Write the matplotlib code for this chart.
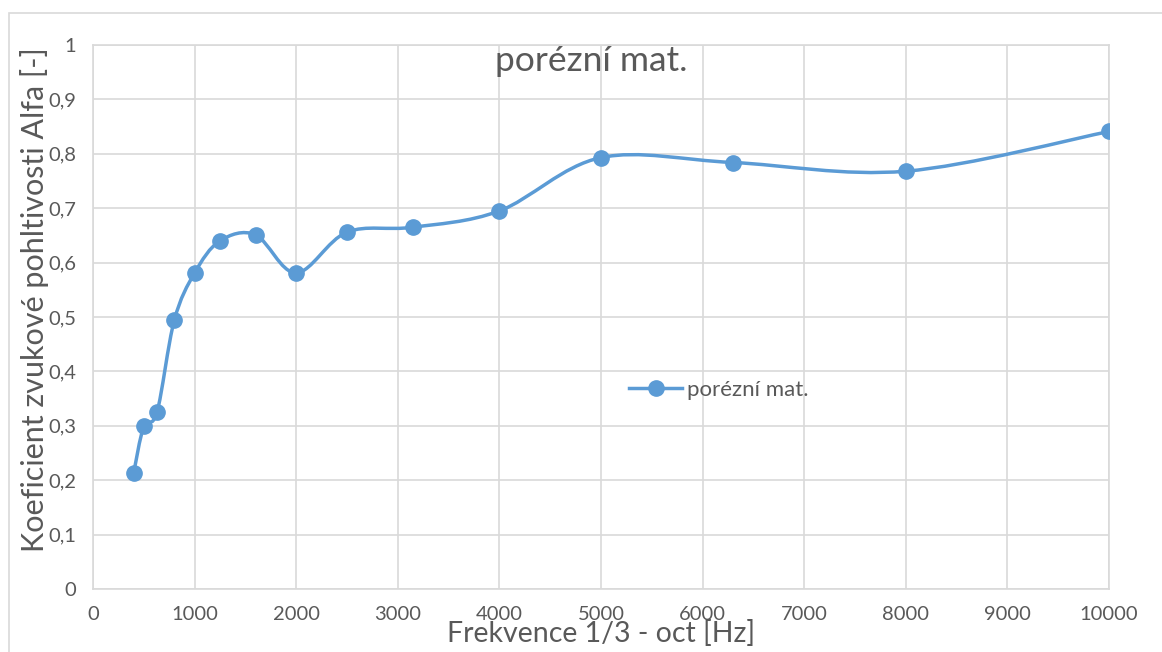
import numpy as np
import matplotlib.pyplot as plt
from matplotlib.path import Path
from matplotlib.patches import PathPatch, Rectangle
from matplotlib.lines import Line2D
from matplotlib.ticker import FuncFormatter

freq = [400, 500, 630, 800, 1000, 1250, 1600, 2000, 2500, 3150, 4000, 5000, 6300, 8000, 10000]
alfa = [0.213, 0.299, 0.325, 0.494, 0.581, 0.640, 0.651, 0.581, 0.656, 0.665, 0.695, 0.793, 0.784, 0.768, 0.841]

blue = "#5B9BD5"
grey = "#595959"
grid = "#D9D9D9"

plt.rcParams['font.family'] = ['Lato', 'DejaVu Sans']

W, H = 1162, 652
fig = plt.figure(figsize=(W / 100, H / 100), dpi=100)
fig.patches.append(Rectangle((9 / W, -0.1), 1.2, (H - 13) / H + 0.1, transform=fig.transFigure,
                             fill=False, edgecolor=grid, linewidth=1.2))

ax = fig.add_axes([93 / W, (H - 589) / H, (1109 - 93) / W, (589 - 45) / H])
ax.set_xlim(0, 10000)
ax.set_ylim(0, 1)
ax.set_xticks(np.arange(0, 10001, 1000))
ax.set_yticks(np.arange(0, 1.01, 0.1))
ax.yaxis.set_major_formatter(FuncFormatter(lambda v, p: ("%g" % round(v, 1)).replace(".", ",")))
ax.grid(True, color=grid, linewidth=1.2)
ax.set_axisbelow(True)
for s in ax.spines.values():
    s.set_color(grid)
    s.set_linewidth(1.2)
ax.tick_params(length=0, labelsize=14.5, colors=grey, pad=12)

# smoothed line like Excel (Catmull-Rom as cubic Bezier)
p = np.column_stack([freq, alfa])
pts = np.vstack([p[0], p, p[-1]])
verts = [tuple(p[0])]
codes = [Path.MOVETO]
for i in range(1, len(pts) - 2):
    c1 = pts[i] + (pts[i + 1] - pts[i - 1]) / 6
    c2 = pts[i + 1] - (pts[i + 2] - pts[i]) / 6
    verts += [tuple(c1), tuple(c2), tuple(pts[i + 1])]
    codes += [Path.CURVE4] * 3
ax.add_patch(PathPatch(Path(verts, codes), fill=False, edgecolor=blue, linewidth=2.5,
                       capstyle='round', zorder=3))
ax.plot(freq, alfa, linestyle='none', marker='o', markersize=11, color=blue, zorder=4)

h = Line2D([], [], color=blue, linewidth=2.5, marker='o', markersize=11)
ax.legend([h], ["porézní mat."], loc='center left',
          bbox_to_anchor=((609 - 93) / (1109 - 93), (589 - 390) / (589 - 45)),
          frameon=False, fontsize=16, labelcolor=grey, handlelength=2.4, handletextpad=0.2)

fig.text(591 / W, 1 - 61 / H, "porézní mat.", ha='center', va='center', fontsize=25.5, color=grey)
fig.text(601 / W, 1 - 634 / H, "Frekvence 1/3 - oct [Hz]", ha='center', va='center', fontsize=20.5, color=grey)
fig.text(35 / W, 1 - 300 / H, "Koeficient zvukové pohltivosti Alfa [-]", ha='center', va='center',
         rotation=90, fontsize=22, color=grey)

fig.savefig("out.png", dpi=100)
